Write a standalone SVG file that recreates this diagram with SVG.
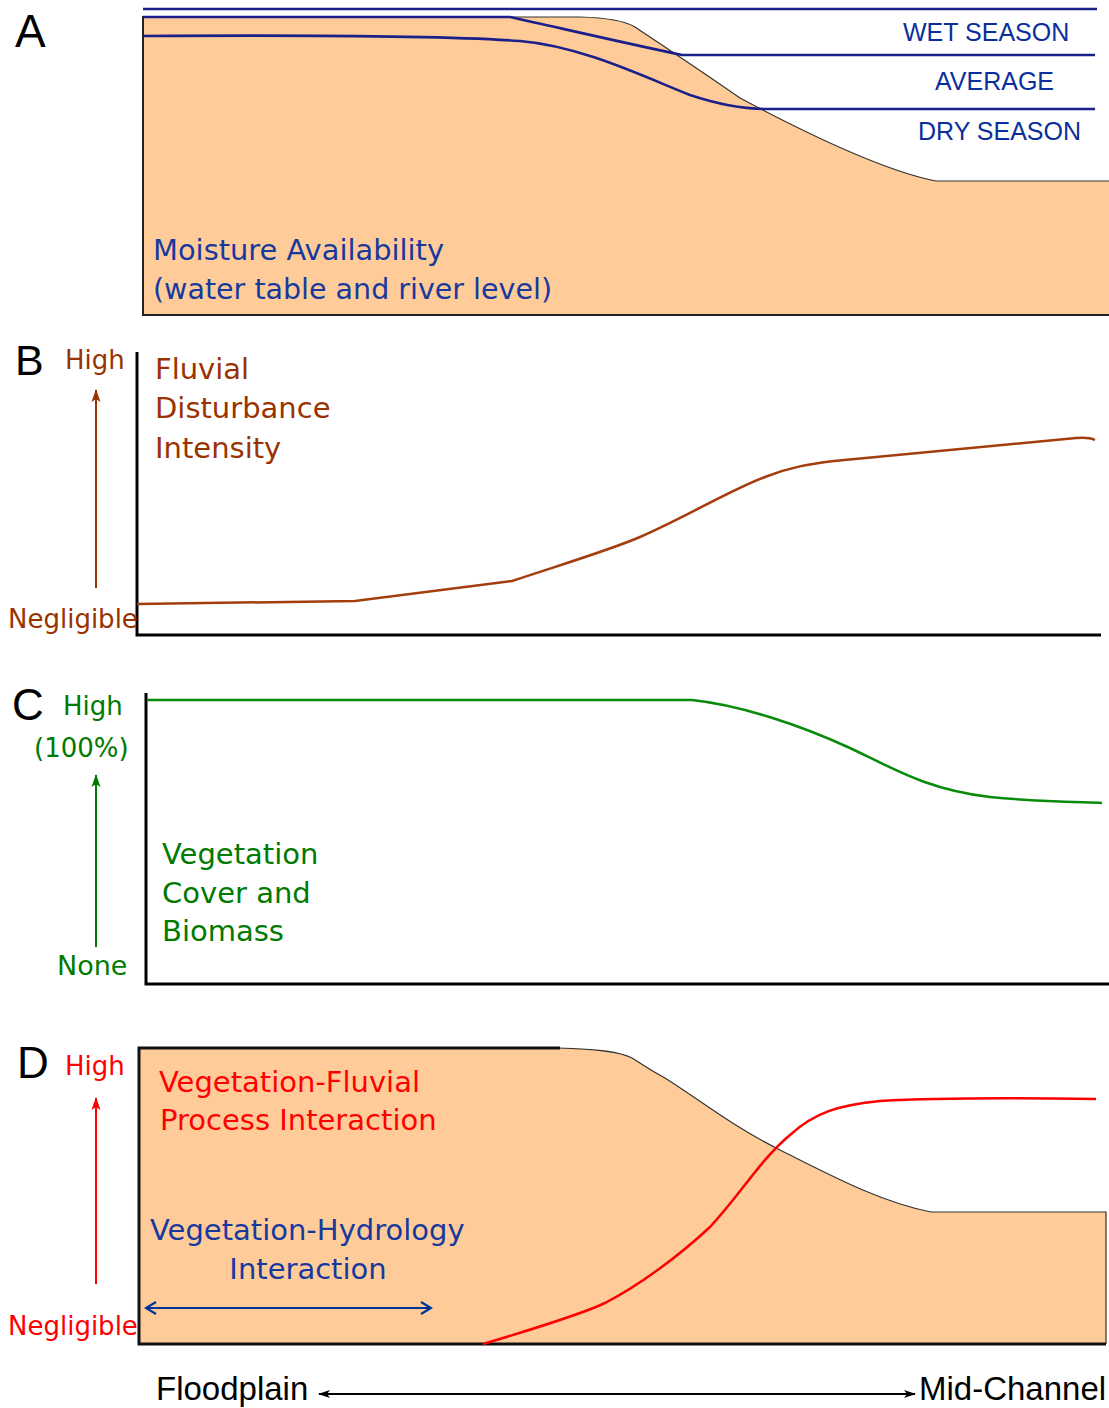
<svg xmlns="http://www.w3.org/2000/svg" width="1109" height="1408" viewBox="0 0 1109 1408">
<style>
.lt{font-family:"Liberation Sans",Arial,sans-serif}
.dv{font-family:"DejaVu Sans",Verdana,sans-serif}
.let{font-size:44px;fill:#000}
.wl{fill:none;stroke:#1a1f8a;stroke-width:2.6}
.ax{fill:none;stroke:#000;stroke-width:3}
.brown{fill:#993300}
.green{fill:#007A00}
.red{fill:#FF0000}
.blue{fill:#17399E}
.tan{fill:#FFCC99}
</style>
<defs>
<marker id="hBrown" markerWidth="13" markerHeight="12" refX="12" refY="6" orient="auto" markerUnits="userSpaceOnUse"><path d="M0,1.5 L13,6 L0,10.5 L3,6 Z" fill="#993300"/></marker>
<marker id="hGreen" markerWidth="13" markerHeight="12" refX="12" refY="6" orient="auto" markerUnits="userSpaceOnUse"><path d="M0,1.5 L13,6 L0,10.5 L3,6 Z" fill="#007A00"/></marker>
<marker id="hRed" markerWidth="13" markerHeight="12" refX="12" refY="6" orient="auto" markerUnits="userSpaceOnUse"><path d="M0,1.5 L13,6 L0,10.5 L3,6 Z" fill="#FF0000"/></marker>
<marker id="hBlack" markerWidth="12" markerHeight="12" refX="11" refY="6" orient="auto-start-reverse" markerUnits="userSpaceOnUse"><path d="M0,2 L12,6 L0,10 L3,6 Z" fill="#000"/></marker>
<marker id="hBlue" markerWidth="14" markerHeight="16" refX="12" refY="8" orient="auto-start-reverse" markerUnits="userSpaceOnUse"><path d="M2,2 L12,8 L2,14" fill="none" stroke="#003399" stroke-width="2.2"/></marker>
</defs>
<rect width="1109" height="1408" fill="#fff"/>

<g id="panelA">
<path class="tan" d="M143,17 L580,17 Q620,18 635,27 C650,37 700,70 740,98 C800,130 880,170 936,181 L1109,181 L1109,315 L143,315 Z"/>
<path d="M505,17 L580,17 Q620,18 635,27 C650,37 700,70 740,98 C800,130 880,170 936,181 L1109,181" fill="none" stroke="#333" stroke-width="1.2"/>
<path d="M143,16 L143,315 L1109,315" fill="none" stroke="#222" stroke-width="2"/>
<path class="wl" d="M143,9 L1097,9"/>
<path class="wl" d="M143,17 L510,17 C560,28 620,42 682,55 L1095,55"/>
<path class="wl" d="M143,36 C300,35 450,36 520,41 C580,46 640,75 690,95 C720,105 745,109 767,109 L1095,109"/>
<text class="lt let" x="15" y="47" style="font-size:46px">A</text>
<text class="lt" x="903" y="41" font-size="25" fill="#0a2f9c">WET SEASON</text>
<text class="lt" x="935" y="90" font-size="25" fill="#0a2f9c">AVERAGE</text>
<text class="lt" x="918" y="140" font-size="25" fill="#0a2f9c">DRY SEASON</text>
<text class="dv blue" x="153" y="260" font-size="28.5" textLength="291" lengthAdjust="spacingAndGlyphs">Moisture Availability</text>
<text class="dv blue" x="153" y="299" font-size="28.5">(water table and river level)</text>
</g>

<g id="panelB">
<path class="ax" d="M137,352 L137,635 L1101,635"/>
<path d="M137,604 L355,601 L512,581 C560,565 610,550 640,537 C690,515 730,490 765,477 C790,467 810,464 834,461 L1076,438 C1088,437 1093,439 1095,440" fill="none" stroke="#A33D0D" stroke-width="2.5"/>
<text class="lt let" x="15" y="375" style="font-size:43px">B</text>
<text class="dv brown" x="65" y="369" font-size="26">High</text>
<text class="dv brown" x="8" y="628" font-size="26">Negligible</text>
<text class="dv brown" x="155" y="379" font-size="29">Fluvial</text>
<text class="dv brown" x="155" y="418" font-size="29">Disturbance</text>
<text class="dv brown" x="155" y="458" font-size="29">Intensity</text>
</g>

<g id="panelC">
<path class="ax" d="M146,693 L146,984 L1109,984"/>
<path d="M147,700 L692,700 C740,705 800,725 850,748 C900,772 930,790 990,797 C1040,802 1080,802 1102,803" fill="none" stroke="#0A8A0A" stroke-width="2.5"/>
<text class="lt let" x="12" y="720">C</text>
<text class="dv green" x="63" y="715" font-size="26">High</text>
<text class="dv green" x="34" y="757" font-size="26">(100%)</text>
<text class="dv green" x="57" y="975" font-size="27">None</text>
<text class="dv green" x="162" y="864" font-size="29">Vegetation</text>
<text class="dv green" x="162" y="903" font-size="29">Cover and</text>
<text class="dv green" x="162" y="941" font-size="29">Biomass</text>
</g>

<g id="panelD">
<path class="tan" d="M139,1048 L558,1048 C600,1049 620,1052 632,1058 C645,1066 650,1070 665,1078 C700,1100 730,1125 780,1150 C830,1175 880,1202 931,1212 L1106,1212 L1106,1344 L139,1344 Z"/>
<path d="M558,1048 C600,1049 620,1052 632,1058 C645,1066 650,1070 665,1078 C700,1100 730,1125 780,1150 C830,1175 880,1202 931,1212 L1106,1212 L1106,1344" fill="none" stroke="#333" stroke-width="1.2"/>
<path d="M560,1048 L139,1048 L139,1344 L1106,1344" fill="none" stroke="#111" stroke-width="3"/>
<path d="M483,1344 C530,1330 580,1315 605,1303 C640,1285 680,1255 710,1227 C740,1195 760,1160 790,1135 C815,1112 840,1105 880,1101 C950,1097 1030,1098 1096,1099" fill="none" stroke="#FF0000" stroke-width="2.5"/>
<text class="lt let" x="17" y="1078">D</text>
<text class="dv red" x="65" y="1075" font-size="26">High</text>
<text class="dv red" x="8" y="1335" font-size="26">Negligible</text>
<text class="dv red" x="159" y="1092" font-size="29">Vegetation-Fluvial</text>
<text class="dv red" x="160" y="1130" font-size="29">Process Interaction</text>
<text class="dv blue" x="150" y="1240" font-size="29">Vegetation-Hydrology</text>
<text class="dv blue" x="308" y="1279" font-size="29" text-anchor="middle">Interaction</text>
</g>

<g id="axisLabels">
<text class="lt" x="156" y="1400" font-size="33" fill="#000">Floodplain</text>
<text class="lt" x="919" y="1400" font-size="33" fill="#000">Mid-Channel</text>
</g>

<g id="connectors">
<line x1="96" y1="588" x2="96" y2="390" stroke="#993300" stroke-width="2" marker-end="url(#hBrown)"/>
<line x1="96" y1="947" x2="96" y2="775" stroke="#007A00" stroke-width="2" marker-end="url(#hGreen)"/>
<line x1="96" y1="1284" x2="96" y2="1098" stroke="#FF0000" stroke-width="2" marker-end="url(#hRed)"/>
<line x1="146" y1="1308" x2="431" y2="1308" stroke="#003399" stroke-width="2.2" marker-start="url(#hBlue)" marker-end="url(#hBlue)"/>
<line x1="319" y1="1394" x2="915" y2="1394" stroke="#000" stroke-width="2" marker-start="url(#hBlack)" marker-end="url(#hBlack)"/>
</g>
</svg>
